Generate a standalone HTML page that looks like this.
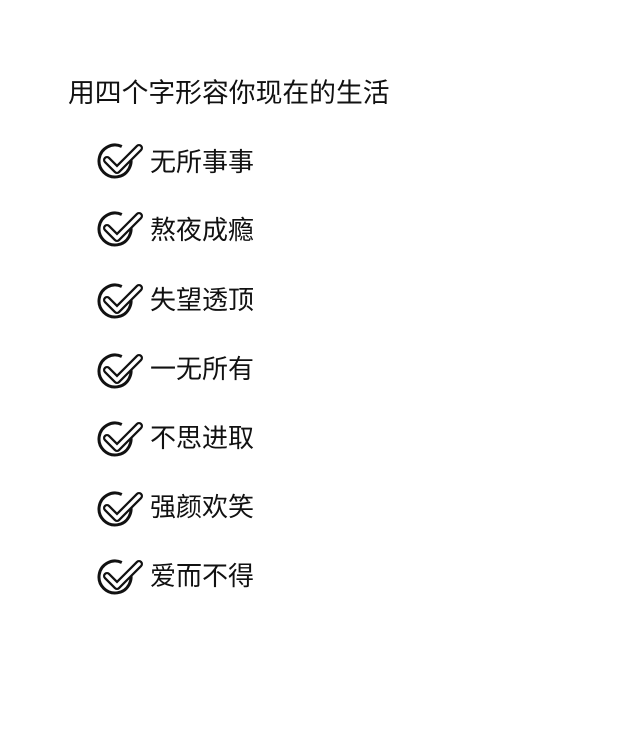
<!DOCTYPE html>
<html><head><meta charset="utf-8"><style>
html,body{margin:0;padding:0;background:#fff;}
body{width:640px;height:748px;position:relative;overflow:hidden;font-family:"Liberation Sans","Noto Sans CJK SC",sans-serif;color:#111;}
.t{position:absolute;left:68px;top:77px;font-size:26.8px;line-height:32px;white-space:nowrap;}
.row{position:absolute;left:96px;height:44px;width:300px;}
.row svg{position:absolute;left:0;top:0;}
.row span{position:absolute;left:54px;top:7px;font-size:26px;line-height:30px;white-space:nowrap;}
</style></head><body>
<div class="t">用四个字形容你现在的生活</div>
<div class="row" style="top:140px"><svg width="48" height="44" viewBox="0 0 48 44"><path d="M33.5 14.2 A16 16 0 1 1 25.8 6.5" fill="none" stroke="#111" stroke-width="3"/><path d="M11 20 L21 30 L43 8" fill="none" stroke="#111" stroke-width="8" stroke-linecap="round" stroke-linejoin="round"/><path d="M11 20 L21 30 L43 8" fill="none" stroke="#fff" stroke-width="3.5" stroke-linecap="round" stroke-linejoin="round"/></svg><span>无所事事</span></div>
<div class="row" style="top:208px"><svg width="48" height="44" viewBox="0 0 48 44"><path d="M33.5 14.2 A16 16 0 1 1 25.8 6.5" fill="none" stroke="#111" stroke-width="3"/><path d="M11 20 L21 30 L43 8" fill="none" stroke="#111" stroke-width="8" stroke-linecap="round" stroke-linejoin="round"/><path d="M11 20 L21 30 L43 8" fill="none" stroke="#fff" stroke-width="3.5" stroke-linecap="round" stroke-linejoin="round"/></svg><span>熬夜成瘾</span></div>
<div class="row" style="top:280px"><svg width="48" height="44" viewBox="0 0 48 44"><path d="M33.5 14.2 A16 16 0 1 1 25.8 6.5" fill="none" stroke="#111" stroke-width="3"/><path d="M11 20 L21 30 L43 8" fill="none" stroke="#111" stroke-width="8" stroke-linecap="round" stroke-linejoin="round"/><path d="M11 20 L21 30 L43 8" fill="none" stroke="#fff" stroke-width="3.5" stroke-linecap="round" stroke-linejoin="round"/></svg><span style="top:5px">失望透顶</span></div>
<div class="row" style="top:350px"><svg width="48" height="44" viewBox="0 0 48 44"><path d="M33.5 14.2 A16 16 0 1 1 25.8 6.5" fill="none" stroke="#111" stroke-width="3"/><path d="M11 20 L21 30 L43 8" fill="none" stroke="#111" stroke-width="8" stroke-linecap="round" stroke-linejoin="round"/><path d="M11 20 L21 30 L43 8" fill="none" stroke="#fff" stroke-width="3.5" stroke-linecap="round" stroke-linejoin="round"/></svg><span style="top:4px">一无所有</span></div>
<div class="row" style="top:418px"><svg width="48" height="44" viewBox="0 0 48 44"><path d="M33.5 14.2 A16 16 0 1 1 25.8 6.5" fill="none" stroke="#111" stroke-width="3"/><path d="M11 20 L21 30 L43 8" fill="none" stroke="#111" stroke-width="8" stroke-linecap="round" stroke-linejoin="round"/><path d="M11 20 L21 30 L43 8" fill="none" stroke="#fff" stroke-width="3.5" stroke-linecap="round" stroke-linejoin="round"/></svg><span style="top:5px">不思进取</span></div>
<div class="row" style="top:488px"><svg width="48" height="44" viewBox="0 0 48 44"><path d="M33.5 14.2 A16 16 0 1 1 25.8 6.5" fill="none" stroke="#111" stroke-width="3"/><path d="M11 20 L21 30 L43 8" fill="none" stroke="#111" stroke-width="8" stroke-linecap="round" stroke-linejoin="round"/><path d="M11 20 L21 30 L43 8" fill="none" stroke="#fff" stroke-width="3.5" stroke-linecap="round" stroke-linejoin="round"/></svg><span style="top:4px">强颜欢笑</span></div>
<div class="row" style="top:556px"><svg width="48" height="44" viewBox="0 0 48 44"><path d="M33.5 14.2 A16 16 0 1 1 25.8 6.5" fill="none" stroke="#111" stroke-width="3"/><path d="M11 20 L21 30 L43 8" fill="none" stroke="#111" stroke-width="8" stroke-linecap="round" stroke-linejoin="round"/><path d="M11 20 L21 30 L43 8" fill="none" stroke="#fff" stroke-width="3.5" stroke-linecap="round" stroke-linejoin="round"/></svg><span style="top:5px">爱而不得</span></div>
</body></html>
